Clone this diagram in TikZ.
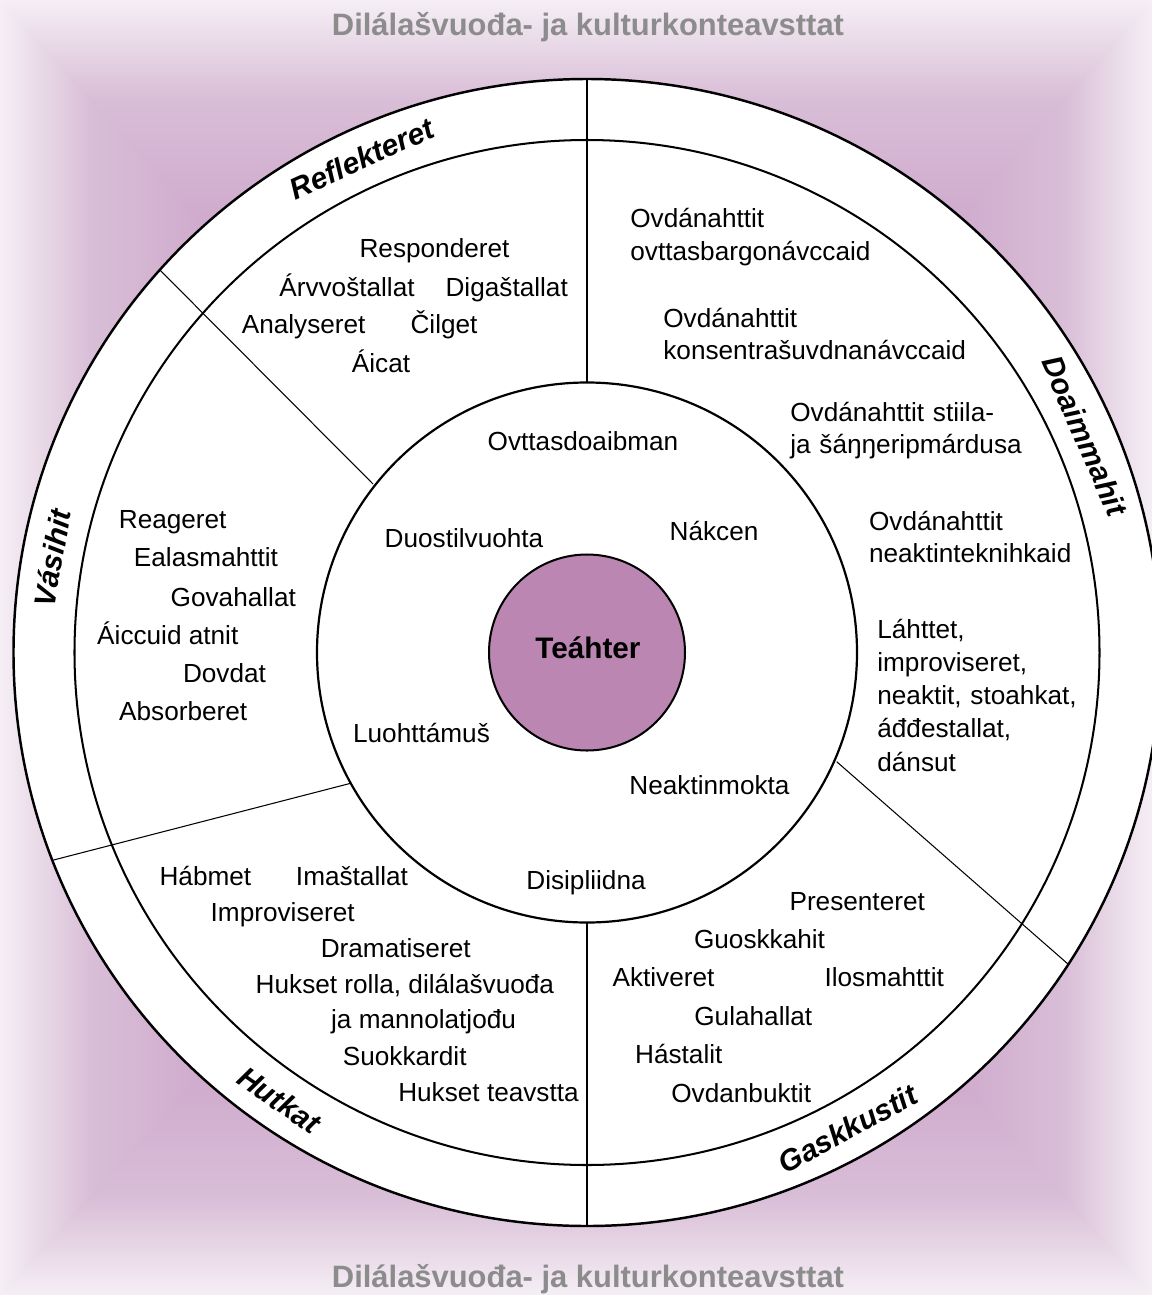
\documentclass[tikz,border=0pt]{standalone}
\usepackage{fontspec}
\setmainfont{Liberation Sans}
\usetikzlibrary{positioning,calc}

\definecolor{bgpurple}{RGB}{206,168,203}
\definecolor{bgmid}{RGB}{217,190,215}
\definecolor{bgedge}{RGB}{245,239,245}
\definecolor{centrefill}{RGB}{188,134,179}
\definecolor{titlegray}{RGB}{140,140,140}

% the path box covers 25bp--75bp of each shading
\pgfdeclareverticalshading{bgtop}{100bp}{color(0bp)=(bgpurple); color(57bp)=(bgpurple); color(67.5bp)=(bgmid); color(75bp)=(bgedge); color(100bp)=(bgedge)}
\pgfdeclareverticalshading{bgbottom}{100bp}{color(0bp)=(bgedge); color(25bp)=(bgedge); color(32.5bp)=(bgmid); color(43bp)=(bgpurple); color(100bp)=(bgpurple)}
\pgfdeclarehorizontalshading{bgleft}{100bp}{color(0bp)=(bgedge); color(25bp)=(bgedge); color(32.5bp)=(bgmid); color(43bp)=(bgpurple); color(100bp)=(bgpurple)}
\pgfdeclarehorizontalshading{bgright}{100bp}{color(0bp)=(bgpurple); color(57bp)=(bgpurple); color(67.5bp)=(bgmid); color(75bp)=(bgedge); color(100bp)=(bgedge)}

\tikzstyle{word} = [inner sep=0pt, anchor=base, %
   font=\fontsize{14.9}{18.6}\selectfont]
\tikzstyle{block} = [inner sep=0pt, anchor=base west, text width=7cm, %
   align=left, font=\fontsize{14.9}{18.6}\selectfont]
\tikzstyle{sector} = [inner sep=0pt, font=\fontsize{17}{20}\selectfont\bfseries\itshape]
\tikzstyle{title} = [inner sep=0pt, anchor=base, text=titlegray, %
   font=\fontsize{17.6}{21}\selectfont\bfseries]
\tikzstyle{divider} = [draw, line width=0.6pt]

\begin{document}
\begin{tikzpicture}[x=0.02cm, y=-0.02cm]
   \useasboundingbox (0,0) rectangle (1152,1295);
   \coordinate (centre) at (587,652.5);

   % BACKGROUND %%%%%%%%%%%%%%%%%%%%%%%%%%%%%%%%%%%%%%%%%%%%%%%%%%%%%%
   \shade[shading=bgleft] (0,0) -- (0,1295) -- (605,652.5) -- cycle;
   \shade[shading=bgright] (1152,0) -- (1152,1295) -- (569,652.5) -- cycle;
   \shade[shading=bgtop] (0,0) -- (1152,0) -- (centre) -- cycle;
   \shade[shading=bgbottom] (0,1295) -- (1152,1295) -- (centre) -- cycle;

   % WHEEL %%%%%%%%%%%%%%%%%%%%%%%%%%%%%%%%%%%%%%%%%%%%%%%%%%%%%%%%%%%
   \path[fill=white] (centre) circle (573.5);

   \coordinate (topin) at (587,382.5);
   \coordinate (topout) at (587,79);
   \coordinate (botin) at (587,922.5);
   \coordinate (botout) at (587,1226);
   \coordinate (ulin) at (373,484);
   \coordinate (ulout) at (159.6,269.7);
   \coordinate (llin) at (350.6,783.3);
   \coordinate (llout) at (53.6,860);
   \coordinate (lrin) at (836.7,761.7);
   \coordinate (lrout) at (1068.3,964.3);

   % Draw edges
   \path[divider] (topin) -- (topout);
   \path[divider] (botin) -- (botout);
   \path[divider] (ulin) -- (ulout);
   \path[divider] (llin) -- (llout);
   \path[divider] (lrin) -- (lrout);

   \draw[line width=1.4pt] (centre) circle (573.5);
   \draw[line width=1.15pt] (centre) circle (512.5);
   \draw[line width=1.25pt] (centre) circle (270);
   \draw[line width=1.15pt, fill=centrefill] (centre) circle (98);

   % Place nodes
   \node[title] (toptitle) at (588,35) {Dilálašvuođa- ja kulturkonteavsttat};
   \node[title] (bottitle) at (588,1287) {Dilálašvuođa- ja kulturkonteavsttat};

   \node[sector, rotate=24.5] (reflekteret) at (361.8,158.4) {Reflekteret};
   \node[sector, rotate=80] (vasihit) at (52.2,558.2) {Vásihit};
   \node[sector, rotate=-66.5] (doaimmahit) at (1084.9,436) {Doaimmahit};
   \node[sector, rotate=-34.5] (hutkat) at (279.4,1100) {Hutkat};
   \node[sector, rotate=28.7] (gaskkustit) at (847.7,1128.8) {Gaskkustit};

   % centre %%%%%%%%%%%%%%%%%%%%%%%%%%%%%%%%%%%%%%%%%%%%%%%%%%%%%%%%%%
   \node[word, font=\fontsize{16.9}{20}\selectfont\bfseries] (teahter) at (588,658) {Teáhter};
   \node[word] (ovttas) at (583,450) {Ovttasdoaibman};
   \node[word] (duostil) at (464,547.7) {Duostilvuohta};
   \node[word] (nakcen) at (714,540.7) {Nákcen};
   \node[word] (luohtt) at (421.5,742) {Luohttámuš};
   \node[word] (neaktinm) at (709.5,794) {Neaktinmokta};
   \node[word] (disipl) at (586,889) {Disipliidna};

   % Reflekteret %%%%%%%%%%%%%%%%%%%%%%%%%%%%%%%%%%%%%%%%%%%%%%%%%%%%%
   \node[word] (respond) at (434.5,257) {Responderet};
   \node[word] (arvvo) at (347,296) {Árvvoštallat};
   \node[word] (digas) at (506.7,296) {Digaštallat};
   \node[word] (analys) at (303.7,333.5) {Analyseret};
   \node[word] (cilget) at (444,333.5) {Čilget};
   \node[word] (aicat) at (381,372.5) {Áicat};

   % Doaimmahit %%%%%%%%%%%%%%%%%%%%%%%%%%%%%%%%%%%%%%%%%%%%%%%%%%%%%%
   \node[block] (ovdovttas) at (630,227.7) {Ovdánahttit\\ovttasbargonávccaid};
   \node[block] (ovdkons) at (663,327) {Ovdánahttit\\konsentrašuvdnanávccaid};
   \node[block] (ovdstiila) at (790,421) {Ovdánahttit stiila-\\ja šáŋŋeripmárdusa};
   \node[block] (ovdneakt) at (868.7,530) {Ovdánahttit\\neaktinteknihkaid};
   \node[block, font=\fontsize{14.9}{18.9}\selectfont] (lahttet) at (877,638.3)
      {Láhttet,\\improviseret,\\neaktit, stoahkat,\\áđđestallat,\\dánsut};

   % Vasihit %%%%%%%%%%%%%%%%%%%%%%%%%%%%%%%%%%%%%%%%%%%%%%%%%%%%%%%%%
   \node[word] (reager) at (172.7,528.3) {Reageret};
   \node[word] (ealasm) at (206,566.7) {Ealasmahttit};
   \node[word] (govah) at (233.3,606) {Govahallat};
   \node[word] (aiccuid) at (167.8,644) {Áiccuid atnit};
   \node[word] (dovdat) at (224.5,682.7) {Dovdat};
   \node[word] (absorb) at (183.2,720.7) {Absorberet};

   % Hutkat %%%%%%%%%%%%%%%%%%%%%%%%%%%%%%%%%%%%%%%%%%%%%%%%%%%%%%%%%%
   \node[word] (habmet) at (205.4,885) {Hábmet};
   \node[word] (imast) at (352,885) {Imaštallat};
   \node[word] (improv) at (282.7,921.7) {Improviseret};
   \node[word] (dramat) at (395.7,957.3) {Dramatiseret};
   \node[word] (rolla) at (404.9,993.3) {Hukset rolla, dilálašvuođa};
   \node[word] (mannol) at (423.6,1028.3) {ja mannolatjođu};
   \node[word] (suokk) at (404.7,1065) {Suokkardit};
   \node[word] (teavstta) at (488.5,1101.7) {Hukset teavstta};

   % Gaskkustit %%%%%%%%%%%%%%%%%%%%%%%%%%%%%%%%%%%%%%%%%%%%%%%%%%%%%%
   \node[word] (present) at (857.2,910) {Presenteret};
   \node[word] (guoskk) at (759.5,948.3) {Guoskkahit};
   \node[word] (aktiv) at (663.5,986.7) {Aktiveret};
   \node[word] (ilosm) at (884.2,986.7) {Ilosmahttit};
   \node[word] (gulah) at (753.3,1025) {Gulahallat};
   \node[word] (hastal) at (678.8,1063.3) {Hástalit};
   \node[word] (ovdanb) at (741.2,1102.3) {Ovdanbuktit};
\end{tikzpicture}
\end{document}
